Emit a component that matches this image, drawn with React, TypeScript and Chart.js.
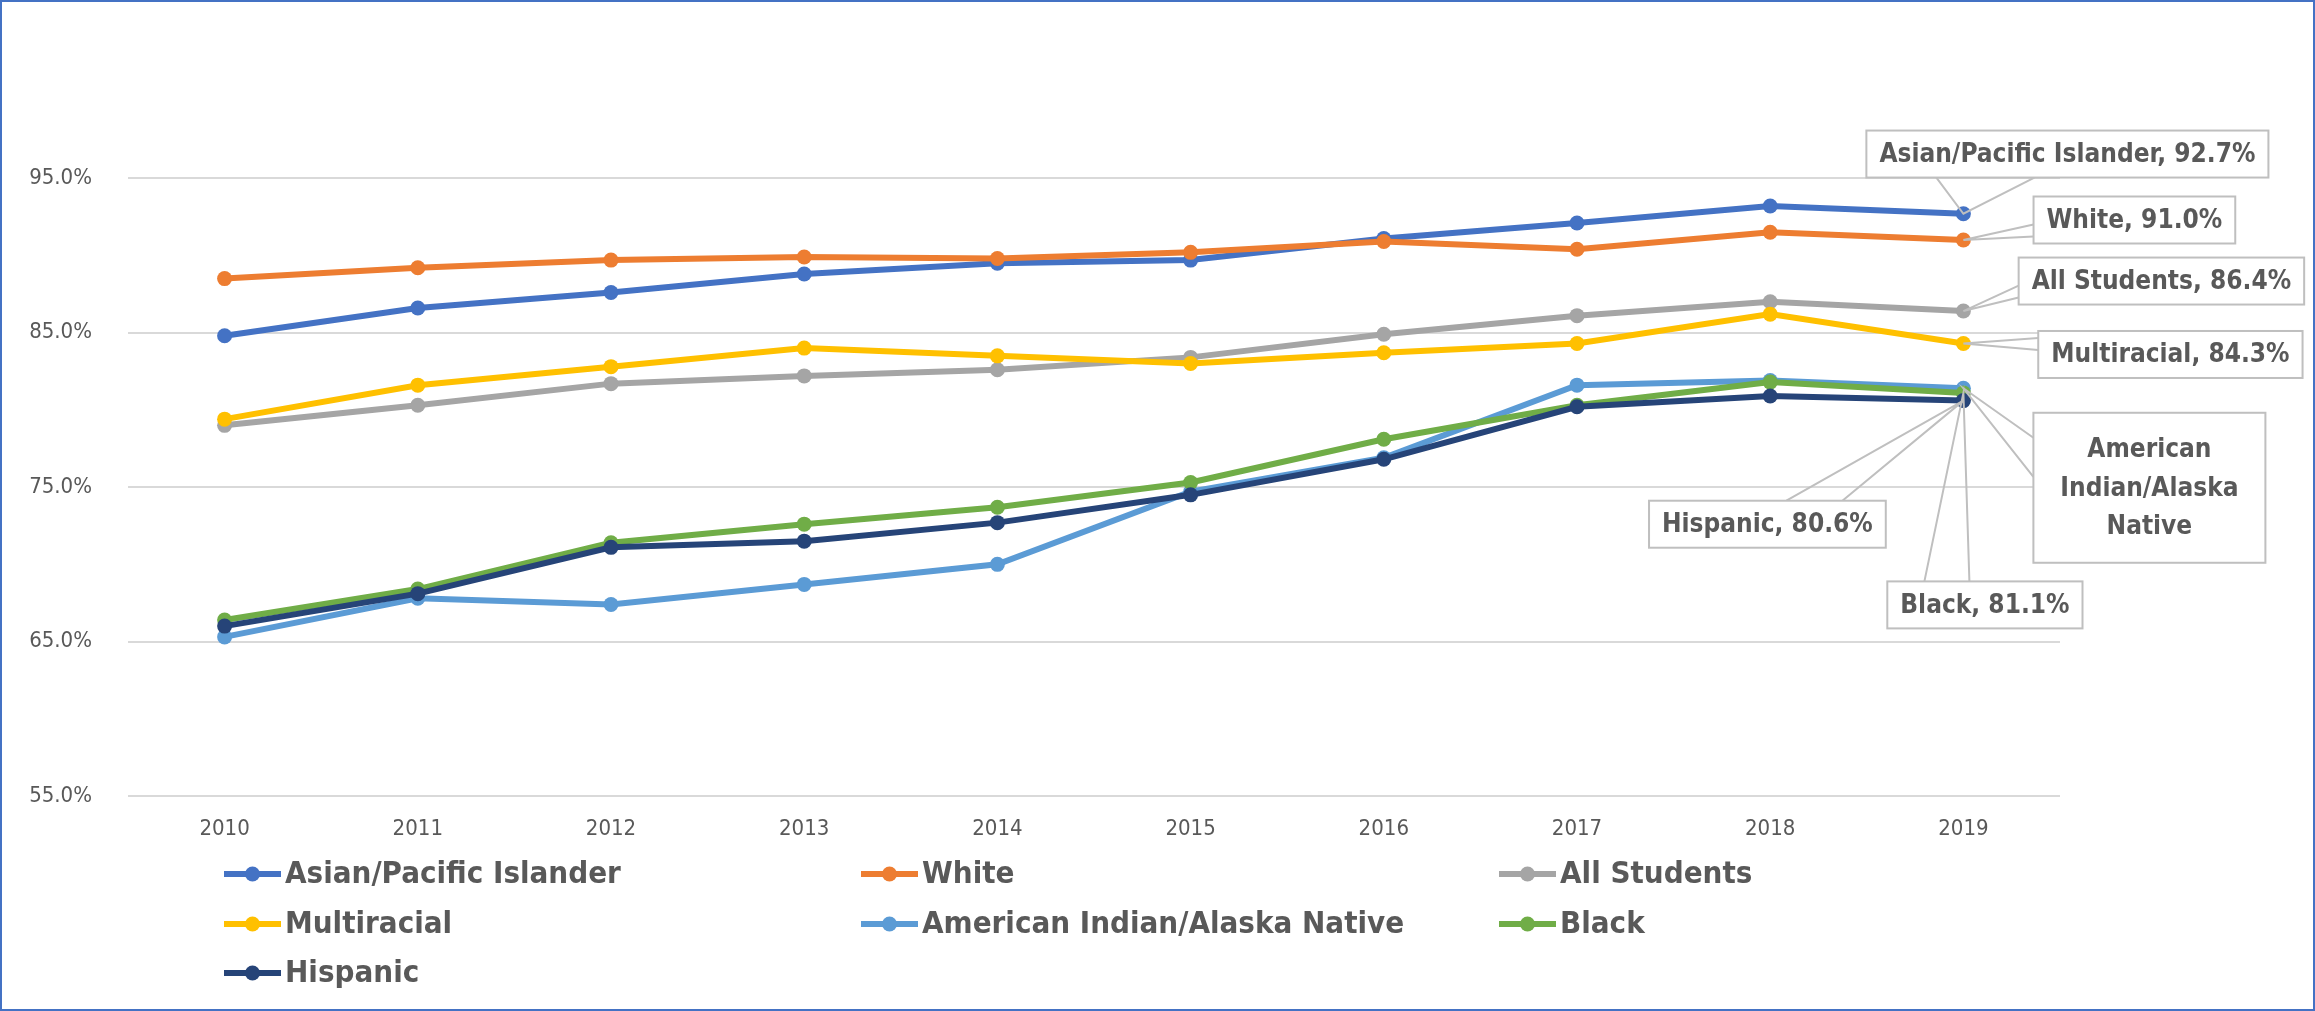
import React, { useEffect, useRef } from 'react';
import { Chart, registerables } from 'chart.js';

Chart.register(...registerables);

const years = ['2010', '2011', '2012', '2013', '2014', '2015', '2016', '2017', '2018', '2019'];

const asianPacific = [84.8, 86.6, 87.6, 88.8, 89.5, 89.7, 91.1, 92.1, 93.2, 92.7];
const white = [88.5, 89.2, 89.7, 89.9, 89.8, 90.2, 90.9, 90.4, 91.5, 91.0];
const allStudents = [79.0, 80.3, 81.7, 82.2, 82.6, 83.4, 84.9, 86.1, 87.0, 86.4];
const multiracial = [79.4, 81.6, 82.8, 84.0, 83.5, 83.0, 83.7, 84.3, 86.2, 84.3];
const americanIndian = [65.3, 67.8, 67.4, 68.7, 70.0, 74.7, 76.9, 81.6, 81.9, 81.4];
const black = [66.4, 68.4, 71.4, 72.6, 73.7, 75.3, 78.1, 80.3, 81.8, 81.1];
const hispanic = [66.0, 68.1, 71.1, 71.5, 72.7, 74.5, 76.8, 80.2, 80.9, 80.6];

const seriesNames = [
  'Asian/Pacific Islander',
  'White',
  'All Students',
  'Multiracial',
  'American Indian/Alaska Native',
  'Black',
  'Hispanic',
];
const seriesValues = [asianPacific, white, allStudents, multiracial, americanIndian, black, hispanic];
const seriesColors = ['#4472C4', '#ED7D31', '#A5A5A5', '#FFC000', '#5B9BD5', '#70AD47', '#264478'];

const yTickValues = [55, 65, 75, 85, 95];
const yMin = 55;
const yMax = 100;

const FONT = "'Liberation Sans Narrow', 'DejaVu Sans Condensed', 'Arial Narrow', sans-serif";
const TEXT = '#595959';

// callout layout (offsets from the last point of each series)
type Callout = { dx: number; dy: number; side: 'left' | 'top' | 'bottom'; t: [number, number]; lines?: string[]; w?: number; h?: number };
const callouts: Callout[] = [
  { dx: 104, dy: -59.7, side: 'bottom', t: [-131, -33] },
  { dx: 171, dy: -20, side: 'left', t: [4.5, 16.5] },
  { dx: 198, dy: -30, side: 'left', t: [4.5, 16.5] },
  { dx: 207, dy: 11, side: 'left', t: [-16.5, -4.5] },
  { dx: 186, dy: 99.5, side: 'left', t: [-50, -11], lines: ['American', 'Indian/Alaska', 'Native'], w: 232, h: 150 },
  { dx: 21.5, dy: 212, side: 'top', t: [-60.5, -15.5] },
  { dx: -196, dy: 123.6, side: 'top', t: [19, 75] },
];

const calloutPlugin = {
  id: 'callouts',
  afterDatasetsDraw(chart: any) {
    const ctx = chart.ctx as CanvasRenderingContext2D;
    ctx.save();
    ctx.font = `bold 26px ${FONT}`;
    chart.data.datasets.forEach((ds: any, i: number) => {
      const meta = chart.getDatasetMeta(i);
      const last = meta.data[meta.data.length - 1];
      const c = callouts[i];
      if (!last || !c) return;
      const px = last.x;
      const py = last.y;
      const val = ds.data[ds.data.length - 1];
      const lines = c.lines ? c.lines : [`${ds.label}, ${Number(val).toFixed(1)}%`];
      const tw = Math.max(...lines.map((l) => ctx.measureText(l).width));
      const w = c.w ?? tw + 26;
      const h = c.h ?? 47;
      const cx = px + c.dx;
      const cy = py + c.dy;
      const left = cx - w / 2;
      const top = cy - h / 2;
      let a1: [number, number];
      let a2: [number, number];
      if (c.side === 'left') {
        a1 = [left, cy + c.t[0]];
        a2 = [left, cy + c.t[1]];
      } else if (c.side === 'top') {
        a1 = [cx + c.t[0], top];
        a2 = [cx + c.t[1], top];
      } else {
        a1 = [cx + c.t[0], top + h];
        a2 = [cx + c.t[1], top + h];
      }
      ctx.strokeStyle = '#BFBFBF';
      ctx.lineWidth = 2;
      ctx.beginPath();
      ctx.moveTo(a1[0], a1[1]);
      ctx.lineTo(px, py);
      ctx.lineTo(a2[0], a2[1]);
      ctx.stroke();
      ctx.fillStyle = '#FFFFFF';
      ctx.fillRect(left, top, w, h);
      ctx.strokeRect(left, top, w, h);
      ctx.fillStyle = TEXT;
      ctx.textAlign = 'center';
      ctx.textBaseline = 'middle';
      const lh = 38.5;
      const startY = cy - ((lines.length - 1) * lh) / 2;
      lines.forEach((l, k) => ctx.fillText(l, cx, startY + k * lh + 1));
    });
    ctx.restore();
  },
};

const legendCols = [224, 861, 1499];
const legendRows = [874, 924, 973];

const legendPlugin = {
  id: 'customLegend',
  afterDraw(chart: any) {
    const ctx = chart.ctx as CanvasRenderingContext2D;
    ctx.save();
    ctx.font = `bold 31px ${FONT}`;
    ctx.textBaseline = 'middle';
    ctx.textAlign = 'left';
    chart.data.datasets.forEach((ds: any, i: number) => {
      const x = legendCols[i % 3];
      const y = legendRows[Math.floor(i / 3)];
      ctx.strokeStyle = ds.borderColor;
      ctx.lineWidth = 6;
      ctx.beginPath();
      ctx.moveTo(x, y);
      ctx.lineTo(x + 57, y);
      ctx.stroke();
      ctx.fillStyle = ds.borderColor;
      ctx.beginPath();
      ctx.arc(x + 28.5, y, 7.5, 0, Math.PI * 2);
      ctx.fill();
      ctx.fillStyle = TEXT;
      ctx.fillText(ds.label, x + 61, y + 1);
    });
    // outer frame
    ctx.strokeStyle = '#4472C4';
    ctx.lineWidth = 2;
    ctx.strokeRect(1, 1, chart.width - 2, chart.height - 2);
    ctx.restore();
  },
};

export default function App() {
  const ref = useRef<HTMLCanvasElement | null>(null);

  useEffect(() => {
    document.body.style.margin = '0';
    const canvas = ref.current;
    if (!canvas) return;
    const chart = new Chart(canvas, {
      type: 'line',
      data: {
        labels: years,
        datasets: seriesNames.map((name, i) => ({
          label: name,
          data: seriesValues[i],
          borderColor: seriesColors[i],
          backgroundColor: seriesColors[i],
          pointBackgroundColor: seriesColors[i],
          pointBorderColor: seriesColors[i],
          borderWidth: 6,
          pointRadius: 7.5,
          pointBorderWidth: 0,
          tension: 0,
          fill: false,
          order: seriesNames.length - 1 - i,
        })),
      },
      options: {
        responsive: false,
        animation: false,
        devicePixelRatio: 1,
        layout: { padding: { top: 101, right: 255, bottom: 165, left: 0 } },
        plugins: {
          legend: { display: false },
          tooltip: { enabled: false },
        },
        scales: {
          x: {
            offset: true,
            grid: { display: false, drawTicks: false },
            border: { display: false },
            ticks: { color: TEXT, font: { family: FONT, size: 22 }, padding: 20 },
            afterFit: (s: any) => {
              s.height = 50;
            },
          },
          y: {
            min: yMin,
            max: yMax,
            afterBuildTicks: (axis: any) => {
              axis.ticks = yTickValues.map((v) => ({ value: v }));
            },
            grid: { color: '#D9D9D9', lineWidth: 2, drawTicks: false },
            border: { display: false },
            ticks: {
              color: TEXT,
              font: { family: FONT, size: 22 },
              padding: 36,
              callback: (v: any) => `${Number(v).toFixed(1)}%`,
            },
            afterFit: (s: any) => {
              s.width = 128;
            },
          },
        },
      },
      plugins: [calloutPlugin, legendPlugin],
    });
    return () => chart.destroy();
  }, []);

  return (
    <div style={{ width: 2315, height: 1011, background: '#fff' }}>
      <canvas ref={ref} width={2315} height={1011} style={{ display: 'block', width: 2315, height: 1011 }} />
    </div>
  );
}
